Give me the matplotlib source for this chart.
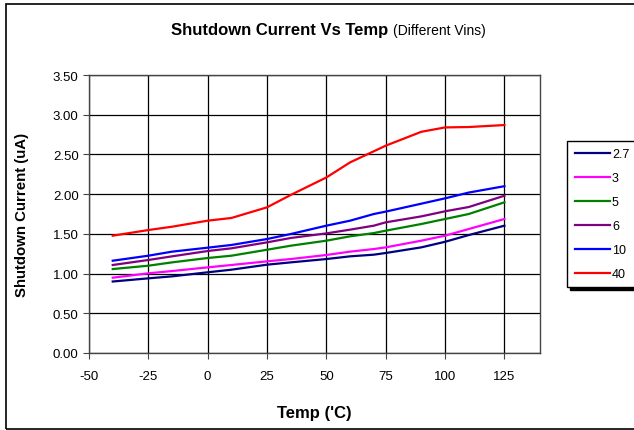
import matplotlib
matplotlib.use("Agg")
import matplotlib.pyplot as plt
from matplotlib.patches import Rectangle

plt.rcParams['font.family'] = ['Liberation Sans', 'DejaVu Sans']
plt.rcParams['axes.unicode_minus'] = False

# temperature points (degC)
temps = [-40, -25, -15, 0, 10, 25, 35, 50, 60, 70, 75, 90, 100, 110, 125]

# shutdown current (uA) per input voltage
vin_2_7 = [0.90, 0.94, 0.965, 1.016, 1.049, 1.112, 1.141, 1.183, 1.217,
           1.238, 1.259, 1.33, 1.40, 1.485, 1.603]
vin_3 = [0.948, 1.003, 1.032, 1.078, 1.108, 1.154, 1.183, 1.234, 1.276,
         1.309, 1.33, 1.414, 1.477, 1.561, 1.687]
vin_5 = [1.057, 1.099, 1.141, 1.196, 1.225, 1.30, 1.351, 1.414, 1.469,
         1.51, 1.54, 1.624, 1.687, 1.75, 1.897]
vin_6 = [1.108, 1.171, 1.217, 1.284, 1.318, 1.393, 1.448, 1.506, 1.553,
         1.603, 1.645, 1.72, 1.784, 1.838, 1.98]
vin_10 = [1.162, 1.225, 1.276, 1.326, 1.36, 1.435, 1.498, 1.603, 1.666,
          1.75, 1.78, 1.88, 1.947, 2.02, 2.10]
vin_40 = [1.477, 1.548, 1.59, 1.666, 1.70, 1.834, 1.99, 2.21, 2.40,
          2.54, 2.61, 2.785, 2.84, 2.845, 2.87]

labels = ['2.7', '3', '5', '6', '10', '40']
colors = ['#000080', '#FF00FF', '#008000', '#800080', '#0000FF', '#FF0000']

x_ticks = [-50, -25, 0, 25, 50, 75, 100, 125]
y_ticks = [0.0, 0.5, 1.0, 1.5, 2.0, 2.5, 3.0, 3.5]


def main():
    fig = plt.figure(figsize=(6.34, 4.31), dpi=100)
    ax = fig.add_axes([89 / 634, 1 - 354 / 431, 451 / 634, 278 / 431])

    series = [vin_2_7, vin_3, vin_5, vin_6, vin_10, vin_40]
    for values, label, color in zip(series, labels, colors):
        ax.plot(temps, values, color=color, lw=1.6, label=label)

    ax.set_xlim(-50, 140)
    ax.set_ylim(0, 3.5)
    ax.set_xticks(x_ticks)
    ax.set_yticks(y_ticks)
    ax.set_yticklabels(['%.2f' % v for v in y_ticks])
    ax.grid(True, color='black', lw=0.9)
    ax.tick_params(direction='out', length=4, labelsize=9.5, color='#444444')
    ax.tick_params(axis='x', pad=8)
    for spine in ax.spines.values():
        spine.set_color('#444444')
        spine.set_linewidth(1.0)

    ax.set_xlabel('Temp (\'C)', fontsize=12, fontweight='bold', labelpad=17)
    ax.set_ylabel('Shutdown Current (uA)', fontsize=10.8, fontweight='bold',
                  labelpad=17)

    fig.text(388 / 634, 1 - 31 / 431, 'Shutdown Current Vs Temp',
             ha='right', va='center', fontsize=12, fontweight='bold')
    fig.text(393 / 634, 1 - 31 / 431, '(Different Vins)',
             ha='left', va='center', fontsize=10)

    fig.legend(loc='upper left', bbox_to_anchor=(567 / 634, 1 - 142 / 431),
               borderaxespad=0, fancybox=False, edgecolor='black',
               framealpha=1, fontsize=9, labelspacing=0.95,
               handlelength=2.8, handletextpad=0.2, borderpad=0.6,
               shadow={'color': 'black', 'alpha': 1})

    fig.patches.append(Rectangle((6 / 634, 1 / 431), 2, 425 / 431,
                                 transform=fig.transFigure, fill=False,
                                 edgecolor='black', lw=1.2))

    fig.savefig('out.png', dpi=100)


if __name__ == "__main__":
    main()
